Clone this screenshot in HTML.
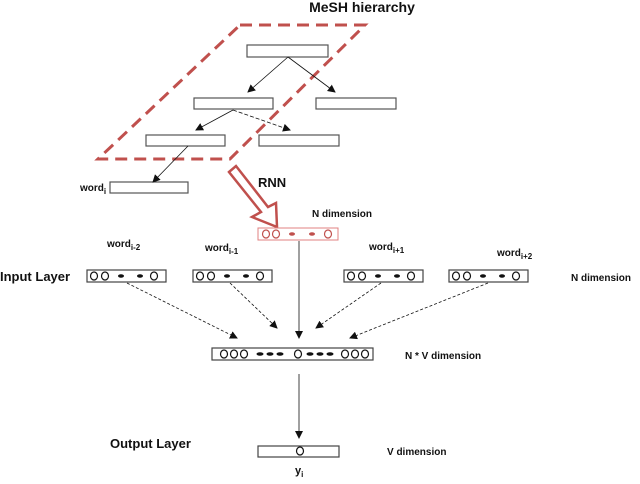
<!DOCTYPE html>
<html><head><meta charset="utf-8"><style>body{margin:0;background:#fff}svg{display:block}text{font-family:"Liberation Sans",sans-serif;font-weight:bold;fill:#111}</style></head><body>
<svg width="640" height="484" viewBox="0 0 640 484" xmlns="http://www.w3.org/2000/svg">
<defs><marker id="a" markerWidth="8" markerHeight="8" refX="7" refY="4" orient="auto" markerUnits="userSpaceOnUse"><path d="M0,0 L8,4 L0,8 z" fill="#111"/></marker></defs>
<text x="362" y="12" font-size="14" text-anchor="middle">MeSH hierarchy</text>
<polygon points="240,25 365,25 230,159 98,159" fill="none" stroke="#c0504d" stroke-width="3" stroke-dasharray="12,7"/>
<g fill="#fff" stroke="#555" stroke-width="1.2">
<rect x="247" y="45" width="81" height="12"/><rect x="194" y="98" width="79" height="11"/><rect x="316" y="98" width="80" height="11"/>
<rect x="146" y="135" width="79" height="11"/><rect x="259" y="135" width="80" height="11"/><rect x="110" y="182" width="78" height="11"/>
</g>
<g stroke="#111" stroke-width="0.8" marker-end="url(#a)">
<line x1="288" y1="57" x2="248" y2="92"/><line x1="288" y1="57" x2="335" y2="92"/>
<line x1="233" y1="110" x2="196" y2="130"/><line x1="233" y1="110" x2="290" y2="130" stroke-dasharray="4,2"/>
<line x1="188" y1="146" x2="153" y2="182"/>
</g>
<text x="80" y="191" font-size="10">word<tspan font-size="8" dy="3">i</tspan></text>
<polygon points="229,172 236,166 268,207 276,203 277,227 252,217 261,212" fill="#fff" stroke="#c0504d" stroke-width="2.5"/>
<text x="258" y="187" font-size="13">RNN</text>
<text x="312" y="217" font-size="10">N  dimension</text>
<rect x="258" y="228" width="80" height="12" fill="#fff" stroke="#e08080" stroke-width="1"/>
<g stroke="#c0504d" stroke-width="1.2" fill="none"><ellipse cx="266" cy="234" rx="3.5" ry="4"/><ellipse cx="276" cy="234" rx="3.5" ry="4"/><ellipse cx="328" cy="234" rx="3.5" ry="4"/></g>
<g fill="#c0504d"><ellipse cx="292" cy="234" rx="3" ry="1.7"/><ellipse cx="312" cy="234" rx="3" ry="1.7"/></g>
<text x="107" y="247" font-size="10">word<tspan font-size="8" dy="3">i-2</tspan></text>
<text x="205" y="251" font-size="10">word<tspan font-size="8" dy="3">i-1</tspan></text>
<text x="369" y="250" font-size="10">word<tspan font-size="8" dy="3">i+1</tspan></text>
<text x="497" y="256" font-size="10">word<tspan font-size="8" dy="3">i+2</tspan></text>
<text x="0" y="281" font-size="13">Input Layer</text>
<text x="571" y="281" font-size="10">N  dimension</text>
<g id="ib"><rect x="87" y="270" width="79" height="12" fill="#fff" stroke="#444" stroke-width="1.2"/>
<g stroke="#111" stroke-width="1.2" fill="none"><ellipse cx="94" cy="276" rx="3.5" ry="4"/><ellipse cx="105" cy="276" rx="3.5" ry="4"/><ellipse cx="154" cy="276" rx="3.5" ry="4"/></g>
<g fill="#111"><ellipse cx="121" cy="276" rx="3" ry="1.7"/><ellipse cx="140" cy="276" rx="3" ry="1.7"/></g></g>
<use href="#ib" x="106"/><use href="#ib" x="257"/><use href="#ib" x="362"/>
<g stroke="#111" stroke-width="0.8" marker-end="url(#a)">
<line x1="127" y1="283" x2="237" y2="338" stroke-dasharray="3,2"/><line x1="230" y1="283" x2="277" y2="328" stroke-dasharray="3,2"/>
<line x1="299" y1="241" x2="299" y2="338"/><line x1="381" y1="283" x2="316" y2="328" stroke-dasharray="3,2"/>
<line x1="488" y1="283" x2="350" y2="338" stroke-dasharray="3,2"/>
<line x1="299" y1="374" x2="299" y2="438"/>
</g>
<rect x="212" y="348" width="161" height="12" fill="#fff" stroke="#444" stroke-width="1.2"/>
<g stroke="#111" stroke-width="1.2" fill="none"><ellipse cx="224" cy="354" rx="3.5" ry="4"/><ellipse cx="234" cy="354" rx="3.5" ry="4"/><ellipse cx="244" cy="354" rx="3.5" ry="4"/><ellipse cx="298" cy="354" rx="3.5" ry="4"/><ellipse cx="345" cy="354" rx="3.5" ry="4"/><ellipse cx="355" cy="354" rx="3.5" ry="4"/><ellipse cx="365" cy="354" rx="3.5" ry="4"/></g>
<g fill="#111"><ellipse cx="260" cy="354" rx="3.5" ry="1.7"/><ellipse cx="270" cy="354" rx="3.5" ry="1.7"/><ellipse cx="280" cy="354" rx="3.5" ry="1.7"/><ellipse cx="310" cy="354" rx="3.5" ry="1.7"/><ellipse cx="320" cy="354" rx="3.5" ry="1.7"/><ellipse cx="330" cy="354" rx="3.5" ry="1.7"/></g>
<text x="405" y="359" font-size="10">N * V dimension</text>
<text x="110" y="448" font-size="13">Output Layer</text>
<rect x="258" y="446" width="81" height="11" fill="#fff" stroke="#444" stroke-width="1.2"/>
<ellipse cx="300" cy="451" rx="3.5" ry="4" fill="none" stroke="#111" stroke-width="1.2"/>
<text x="387" y="455" font-size="10">V dimension</text>
<text x="295" y="474" font-size="11">y<tspan font-size="8" dy="3">i</tspan></text>
</svg>
</body></html>
